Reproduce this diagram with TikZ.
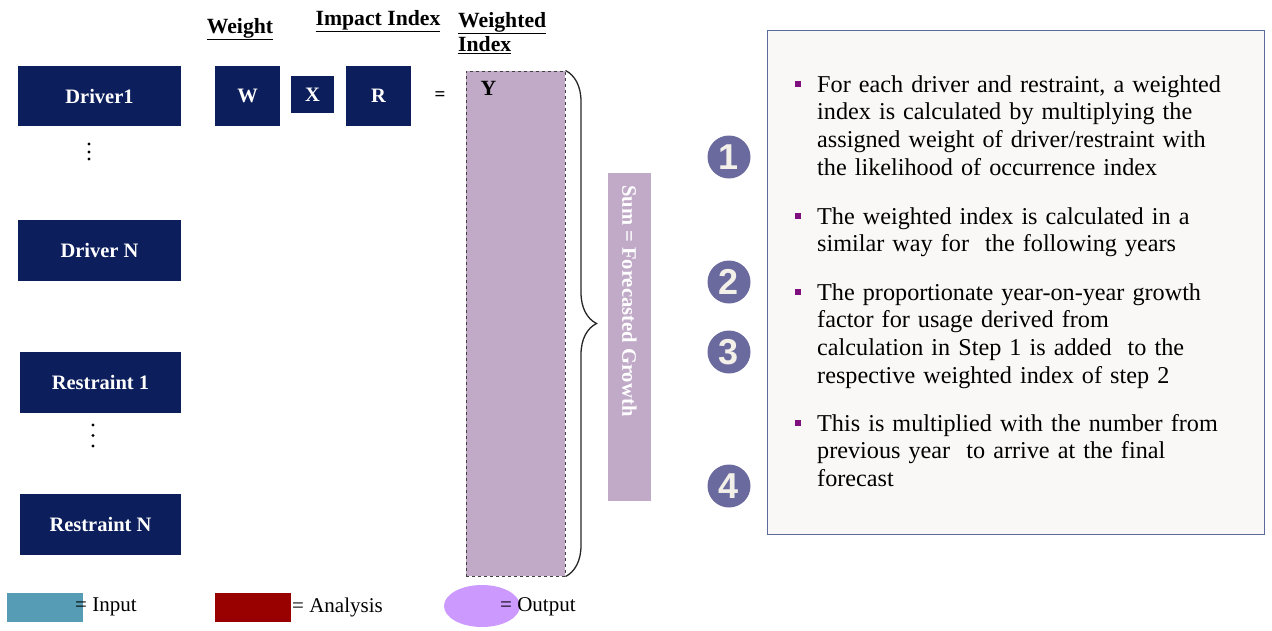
\documentclass[tikz,border=0pt]{standalone}
\usepackage{fontspec}
\setmainfont{Liberation Serif}
\newfontfamily\numfont{Liberation Sans}
\usetikzlibrary{positioning,shapes.geometric,decorations.pathreplacing}
\definecolor{navy}{HTML}{0C1E5B}
\definecolor{lilac}{HTML}{C0AAC8}
\definecolor{stepcol}{HTML}{6A6A9E}
\definecolor{numwhite}{HTML}{F2F0E8}
\definecolor{panelfill}{HTML}{F9F8F6}
\definecolor{panelline}{HTML}{5B6B9B}
\definecolor{bulcol}{HTML}{7F0F7F}
\definecolor{incol}{HTML}{579CB5}
\definecolor{ancol}{HTML}{990000}
\definecolor{outcol}{HTML}{CC99FF}

\tikzstyle{inbox} = [fill=navy, text=white, inner sep=0pt, font=\fontsize{20.5}{23}\selectfont\bfseries]
\tikzstyle{head} = [inner sep=0pt, font=\fontsize{21.7}{24}\selectfont\bfseries]
\tikzstyle{stepnum} = [circle, fill=stepcol, text=numwhite, minimum size=43pt, inner sep=0pt, font=\numfont\fontsize{36}{36}\selectfont\bfseries]
\tikzstyle{bul} = [fill=bulcol, minimum size=6pt, inner sep=0pt]
\tikzstyle{btext} = [anchor=base west, text width=440pt, align=left, inner sep=0pt, font=\fontsize{24.2}{27.7}\selectfont]
\tikzstyle{legtext} = [anchor=west, inner sep=0pt, font=\fontsize{21}{24}\selectfont]
\tikzstyle{dot} = [circle, fill=black, minimum size=3.2pt, inner sep=0pt]

\begin{document}
\begin{tikzpicture}[x=1pt,y=-1pt]
\useasboundingbox (0,0) rectangle (1272,630);

\node [head] (hw) at (240,29) {\underline{Weight}};
\node [head] (hi) at (378,21) {\underline{Impact Index}};
\node [head, anchor=north west, align=left] (hy) at (458,12) {\underline{Weighted}\\\underline{Index}};

\node [inbox, minimum width=163pt, minimum height=60pt] (d1) at (99.5,96) {Driver1};
\node [dot] (d1a) at (89,144) {};
\node [dot] (d1b) at (89,152) {};
\node [dot] (d1c) at (89,159) {};
\node [inbox, minimum width=163pt, minimum height=61pt] (dn) at (99.5,250.5) {Driver N};
\node [inbox, minimum width=161pt, minimum height=61pt] (r1) at (100.5,382.5) {Restraint 1};
\node [dot] (r1a) at (93,425) {};
\node [dot] (r1b) at (93,435.5) {};
\node [dot] (r1c) at (93,446) {};
\node [inbox, minimum width=161pt, minimum height=61pt] (rn) at (100.5,524.5) {Restraint N};

\node [inbox, minimum width=65pt, minimum height=60pt] (w) at (247.5,96) {W};
\node [inbox, minimum width=43pt, minimum height=37pt] (x) at (312.5,94.5) {X};
\node [inbox, minimum width=65pt, minimum height=60pt] (r) at (378.5,96) {R};
\node [inner sep=0pt, font=\fontsize{19}{20}\selectfont\bfseries] (eq) at (440,96) {=};

\node [fill=lilac, draw=black!75, dashed, line width=1pt, minimum width=99pt, minimum height=505pt] (wi) at (515.5,323.5) {};
\node [head, below right=11pt and 15pt of wi.north west] (y) {Y};
\draw [line width=1.3pt, black!85, decorate, decoration={brace, amplitude=31pt}] (wi.north east) -- (wi.south east);

\node [fill=lilac, minimum width=328pt, minimum height=43pt, rotate=-90] (sum) at (629.5,337) {};
\node [anchor=west, rotate=-90, inner sep=0pt, text=white, font=\fontsize{20.6}{24}\selectfont\bfseries] (sumtxt) at (629.5,185) {Sum = Forecasted Growth};

\node [stepnum] (s1) at (729,157) {1};
\node [stepnum] (s2) at (729,282) {2};
\node [stepnum] (s3) at (729,352) {3};
\node [stepnum] (s4) at (729,486) {4};

\node [fill=panelfill, draw=panelline, minimum width=497pt, minimum height=504pt] (panel) at (1015.5,282) {};
\node [bul] (b1) at (798,84) {};
\node [btext] (t1) at (817,92) {For each driver and restraint, a weighted\\index is calculated by multiplying the\\assigned weight of driver/restraint with\\the likelihood of occurrence index};
\node [bul] (b2) at (798,216) {};
\node [btext] (t2) at (817,224) {The weighted index is calculated in a\\similar way for~ the following years};
\node [bul] (b3) at (798,292) {};
\node [btext] (t3) at (817,300) {The proportionate year-on-year growth\\factor for usage derived from\\calculation in Step 1 is added~ to the\\respective weighted index of step 2};
\node [bul] (b4) at (798,423) {};
\node [btext] (t4) at (817,431) {This is multiplied with the number from\\previous year~ to arrive at the final\\forecast};

\node [fill=incol, minimum width=76pt, minimum height=29pt] (lin) at (45,607.5) {};
\node [legtext] (lint) at (75,607) {= Input};
\node [fill=ancol, minimum width=76pt, minimum height=29pt] (lan) at (253,607.5) {};
\node [legtext] (lant) at (292,607) {= Analysis};
\node [ellipse, fill=outcol, minimum width=76pt, minimum height=42pt] (lout) at (482,606) {};
\node [legtext] (loutt) at (500,607) {= Output};
\end{tikzpicture}
\end{document}
